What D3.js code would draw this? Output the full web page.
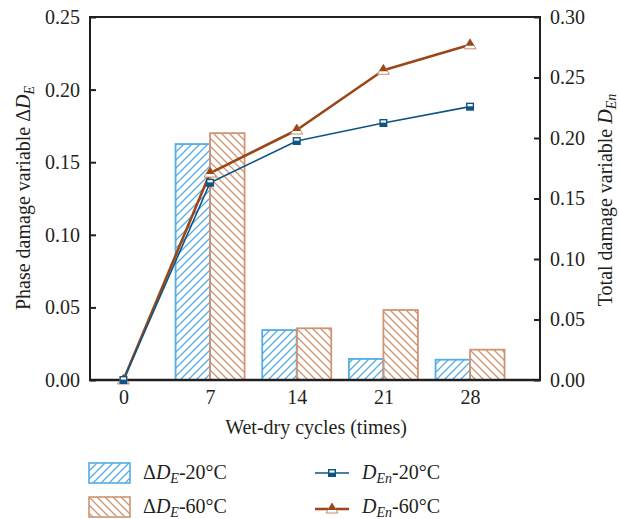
<!DOCTYPE html>
<html><head><meta charset="utf-8">
<script src="https://cdn.jsdelivr.net/npm/d3@7"></script>
<style>body{margin:0;background:#fff}svg{display:block}text{font-family:"Liberation Serif","DejaVu Serif",serif;fill:#231f20}</style>
</head><body><svg id="c" width="619" height="519"></svg>
<script>
const cycles = [0, 7, 14, 21, 28];
const dE20 = [null, 0.1625, 0.0344, 0.0145, 0.0140];
const dE60 = [null, 0.1700, 0.0356, 0.0482, 0.0209];
const dEn20 = [0, 0.163, 0.1975, 0.2124, 0.2259];
const dEn60 = [0, 0.171, 0.2066, 0.2560, 0.2770];
const leftTicks = [0, 0.05, 0.10, 0.15, 0.20, 0.25];
const rightTicks = [0, 0.05, 0.10, 0.15, 0.20, 0.25, 0.30];

const FS = 20;
const svg = d3.select("#c");
const L = 90, R = 540, T = 17, B = 380;
const x = d3.scaleLinear().domain([-2.7, 33.65]).range([L, R]);
const yL = d3.scaleLinear().domain([0, 0.25]).range([B, T]);
const yR = d3.scaleLinear().domain([0, 0.30]).range([B, T]);
const BW = 34.5;
const blueBar = "#55ade2", brownBar = "#d09474";
const blueLine = "#0f5483", brownLine = "#9a4617";

const defs = svg.append("defs");
function hatch(id, color, dir) {
  const p = defs.append("pattern").attr("id", id).attr("patternUnits", "userSpaceOnUse")
    .attr("width", 8).attr("height", 8);
  if (dir > 0) {
    p.append("path").attr("d", "M-2,2 L2,-2 M0,8 L8,0 M6,10 L10,6");
  } else {
    p.append("path").attr("d", "M-2,6 L2,10 M0,0 L8,8 M6,-2 L10,2");
  }
  p.select("path").attr("stroke", color).attr("stroke-width", 1.3).attr("fill", "none");
}
hatch("hb", blueBar, 1);
hatch("hr", brownBar, -1);

// bars
const g = svg.append("g");
cycles.forEach((c, i) => {
  if (dE20[i] != null) {
    g.append("rect").attr("x", x(c) - BW).attr("y", yL(dE20[i])).attr("width", BW)
      .attr("height", B - yL(dE20[i])).attr("fill", "url(#hb)").attr("stroke", blueBar).attr("stroke-width", 1.8);
  }
  if (dE60[i] != null) {
    g.append("rect").attr("x", x(c)).attr("y", yL(dE60[i])).attr("width", BW)
      .attr("height", B - yL(dE60[i])).attr("fill", "url(#hr)").attr("stroke", brownBar).attr("stroke-width", 1.8);
  }
});

// frame
svg.append("path").attr("d", `M${L},${B}V${T}H${R}V${B}`).attr("fill", "none").attr("stroke", "#231f20").attr("stroke-width", 2);
svg.append("line").attr("x1", L - 1).attr("x2", R + 1).attr("y1", B).attr("y2", B).attr("stroke", "#231f20").attr("stroke-width", 2.5);

// axes
const axL = svg.append("g").attr("transform", `translate(${L},0)`)
  .call(d3.axisRight(yL).tickValues(leftTicks).tickSize(6).tickFormat(d3.format(".2f")));
axL.select(".domain").remove();
axL.selectAll("line").attr("stroke", "#231f20").attr("stroke-width", 2);
axL.selectAll("text").attr("x", -10).attr("text-anchor", "end").attr("font-size", FS);

const axR = svg.append("g").attr("transform", `translate(${R},0)`)
  .call(d3.axisLeft(yR).tickValues(rightTicks).tickSize(6).tickFormat(d3.format(".2f")));
axR.select(".domain").remove();
axR.selectAll("line").attr("stroke", "#231f20").attr("stroke-width", 2);
axR.selectAll("text").attr("x", 10).attr("text-anchor", "start").attr("font-size", FS);

const axB = svg.append("g").attr("transform", `translate(0,${B})`)
  .call(d3.axisBottom(x).tickValues(cycles).tickSize(0).tickFormat(d3.format("d")));
axB.select(".domain").remove();
axB.selectAll("text").attr("y", 24).attr("dy", null).attr("font-size", FS);

svg.append("text").attr("x", 316).attr("y", 434).attr("text-anchor", "middle").attr("font-size", FS)
  .text("Wet-dry cycles (times)");

// y titles
const tl = svg.append("text").attr("transform", "translate(30,198) rotate(-90)").attr("text-anchor", "middle").attr("font-size", FS);
tl.append("tspan").text("Phase damage variable Δ");
tl.append("tspan").attr("font-style", "italic").text("D");
tl.append("tspan").attr("font-style", "italic").attr("font-size", 14).attr("dy", 4).text("E");

const tr = svg.append("text").attr("transform", "translate(612,200) rotate(-90)").attr("text-anchor", "middle").attr("font-size", FS);
tr.append("tspan").text("Total damage variable ");
tr.append("tspan").attr("font-style", "italic").text("D");
tr.append("tspan").attr("font-style", "italic").attr("font-size", 14).attr("dy", 4).text("En");

// lines
function drawSeries(vals, color, width, shape) {
  const line = d3.line().x((d, i) => x(cycles[i])).y(d => yR(d));
  svg.append("path").datum(vals).attr("d", line).attr("fill", "none").attr("stroke", color).attr("stroke-width", width).attr("stroke-linejoin", "round");
  vals.forEach((v, i) => marker(x(cycles[i]), yR(v), color, shape));
}
function marker(cx, cy, color, shape) {
  const m = svg.append("g").attr("transform", `translate(${cx},${cy})`);
  if (shape === "square") {
    m.append("rect").attr("x", -4).attr("y", -4).attr("width", 8).attr("height", 8).attr("fill", color);
    m.append("rect").attr("x", -2.6).attr("y", -2.6).attr("width", 5.2).attr("height", 2.2).attr("fill", "#fff");
  } else {
    m.append("path").attr("d", "M0,-6L6,4L-6,4Z").attr("fill", "#fff").attr("stroke", "#c98a68").attr("stroke-width", 1);
    m.append("path").attr("d", "M0,-6L4.2,1L-4.2,1Z").attr("fill", color);
  }
}
drawSeries(dEn60, brownLine, 2.6, "tri");
drawSeries(dEn20, blueLine, 1.6, "square");

// legend
function label(xp, yp, parts) {
  const t = svg.append("text").attr("x", xp).attr("y", yp).attr("font-size", FS);
  parts.forEach(p => {
    const s = t.append("tspan").text(p.t);
    if (p.i) s.attr("font-style", "italic");
    if (p.sub) s.attr("font-size", 14).attr("dy", 4);
    if (p.up) s.attr("dy", -4);
  });
}
svg.append("rect").attr("x", 89).attr("y", 463).attr("width", 41).attr("height", 20).attr("fill", "url(#hb)").attr("stroke", blueBar).attr("stroke-width", 1.6);
svg.append("rect").attr("x", 89).attr("y", 497).attr("width", 41).attr("height", 20).attr("fill", "url(#hr)").attr("stroke", brownBar).attr("stroke-width", 1.6);
label(143, 479, [{t: "Δ"}, {t: "D", i: 1}, {t: "E", i: 1, sub: 1}, {t: "-20°C", up: 1}]);
label(143, 513, [{t: "Δ"}, {t: "D", i: 1}, {t: "E", i: 1, sub: 1}, {t: "-60°C", up: 1}]);
svg.append("line").attr("x1", 315).attr("x2", 349).attr("y1", 473).attr("y2", 473).attr("stroke", blueLine).attr("stroke-width", 1.6);
marker(332, 473, blueLine, "square");
svg.append("line").attr("x1", 315).attr("x2", 349).attr("y1", 509).attr("y2", 509).attr("stroke", brownLine).attr("stroke-width", 2.6);
marker(332, 509, brownLine, "tri");
label(362, 479, [{t: "D", i: 1}, {t: "En", i: 1, sub: 1}, {t: "-20°C", up: 1}]);
label(362, 513, [{t: "D", i: 1}, {t: "En", i: 1, sub: 1}, {t: "-60°C", up: 1}]);
</script></body></html>
